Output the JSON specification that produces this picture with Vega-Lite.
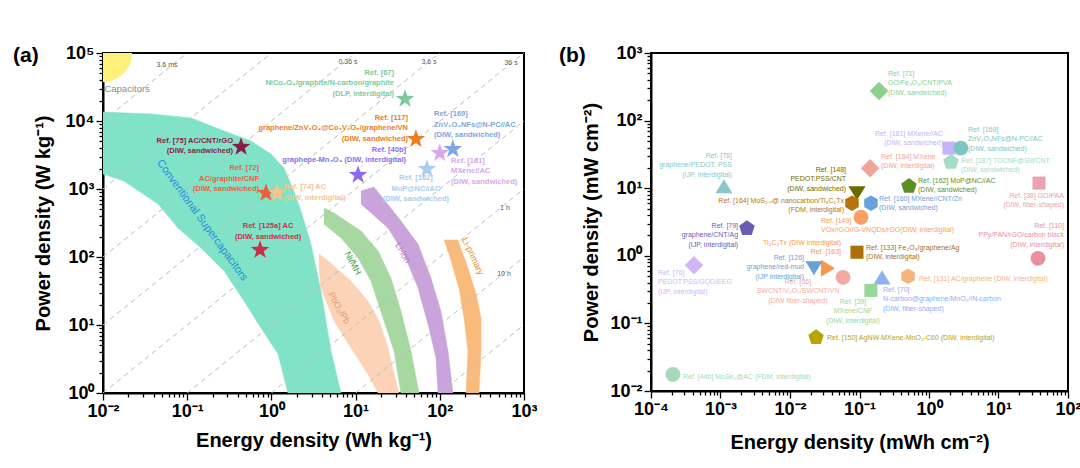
{
  "$schema": "https://vega.github.io/schema/vega-lite/v6.json",
  "background": "white",
  "padding": {"left": 12, "top": 43, "right": 5, "bottom": 5},
  "bounds": "flush",
  "spacing": 127,
  "resolve": {"scale": {"color": "independent", "shape": "independent"}},
  "config": {
    "view": {"stroke": "black", "strokeWidth": 2},
    "font": "Arial",
    "axis": {
      "domainColor": "black", "domainWidth": 2, "tickColor": "black", "tickWidth": 1.3,
      "labelColor": "black", "titleColor": "black", "labelFont": "Arial", "titleFont": "Arial",
      "labelFontSize": 18, "labelFontWeight": "bold", "titleFontSize": 20, "titleFontWeight": "bold",
      "grid": false, "labelFlush": false, "labelOverlap": false, "labelPadding": 2
    }
  },
  "datasets": {
    "tlines": [
      {"t": "1e-6", "E": 0.01, "P": 10000}, {"t": "1e-6", "E": 0.1, "P": 100000},
      {"t": "1e-5", "E": 0.01, "P": 1000}, {"t": "1e-5", "E": 1, "P": 100000},
      {"t": "1e-4", "E": 0.01, "P": 100}, {"t": "1e-4", "E": 10, "P": 100000},
      {"t": "1e-3", "E": 0.01, "P": 10}, {"t": "1e-3", "E": 100, "P": 100000},
      {"t": "1e-2", "E": 0.01, "P": 1}, {"t": "1e-2", "E": 1000, "P": 100000},
      {"t": "1e-1", "E": 0.1, "P": 1}, {"t": "1e-1", "E": 1000, "P": 10000},
      {"t": "1", "E": 1, "P": 1}, {"t": "1", "E": 1000, "P": 1000},
      {"t": "10", "E": 10, "P": 1}, {"t": "10", "E": 1000, "P": 100},
      {"t": "100", "E": 100, "P": 1}, {"t": "100", "E": 1000, "P": 10}
    ],
    "bands": [
      {"band": "sc", "i": 0, "E": 0.01, "P": 13600},
      {"band": "sc", "i": 1, "E": 0.0372, "P": 12700},
      {"band": "sc", "i": 2, "E": 0.111, "P": 11100},
      {"band": "sc", "i": 3, "E": 0.274, "P": 7130},
      {"band": "sc", "i": 4, "E": 0.573, "P": 5080},
      {"band": "sc", "i": 5, "E": 0.989, "P": 3270},
      {"band": "sc", "i": 6, "E": 1.41, "P": 2040},
      {"band": "sc", "i": 7, "E": 1.85, "P": 935},
      {"band": "sc", "i": 8, "E": 2.25, "P": 475},
      {"band": "sc", "i": 9, "E": 2.95, "P": 155},
      {"band": "sc", "i": 10, "E": 3.88, "P": 31.6},
      {"band": "sc", "i": 11, "E": 5.1, "P": 4.15},
      {"band": "sc", "i": 12, "E": 6.71, "P": 1},
      {"band": "sc", "i": 13, "E": 1.57, "P": 1},
      {"band": "sc", "i": 14, "E": 1.2, "P": 3.75},
      {"band": "sc", "i": 15, "E": 0.752, "P": 9.04},
      {"band": "sc", "i": 16, "E": 0.473, "P": 22.5},
      {"band": "sc", "i": 17, "E": 0.274, "P": 62.2},
      {"band": "sc", "i": 18, "E": 0.146, "P": 136},
      {"band": "sc", "i": 19, "E": 0.0778, "P": 267},
      {"band": "sc", "i": 20, "E": 0.045, "P": 601},
      {"band": "sc", "i": 21, "E": 0.0177, "P": 1310},
      {"band": "sc", "i": 22, "E": 0.01, "P": 1660},
      {"band": "pb", "i": 0, "E": 3.67, "P": 111},
      {"band": "pb", "i": 1, "E": 4.45, "P": 93.5},
      {"band": "pb", "i": 2, "E": 8.81, "P": 44.4},
      {"band": "pb", "i": 3, "E": 14.0, "P": 22.5},
      {"band": "pb", "i": 4, "E": 19.0, "P": 11.5},
      {"band": "pb", "i": 5, "E": 24.3, "P": 4.59},
      {"band": "pb", "i": 6, "E": 28.6, "P": 1.9},
      {"band": "pb", "i": 7, "E": 32.7, "P": 1},
      {"band": "pb", "i": 8, "E": 18.5, "P": 1},
      {"band": "pb", "i": 9, "E": 14.0, "P": 1.9},
      {"band": "pb", "i": 10, "E": 8.81, "P": 4.59},
      {"band": "pb", "i": 11, "E": 5.54, "P": 11.5},
      {"band": "pb", "i": 12, "E": 3.88, "P": 35.0},
      {"band": "pb", "i": 13, "E": 3.67, "P": 68.9},
      {"band": "nimh", "i": 0, "E": 4.21, "P": 526},
      {"band": "nimh", "i": 1, "E": 5.54, "P": 444},
      {"band": "nimh", "i": 2, "E": 11.6, "P": 241},
      {"band": "nimh", "i": 3, "E": 18.5, "P": 123},
      {"band": "nimh", "i": 4, "E": 26.3, "P": 49.1},
      {"band": "nimh", "i": 5, "E": 34.6, "P": 16.1},
      {"band": "nimh", "i": 6, "E": 45.5, "P": 4.15},
      {"band": "nimh", "i": 7, "E": 56.6, "P": 1},
      {"band": "nimh", "i": 8, "E": 34.6, "P": 1},
      {"band": "nimh", "i": 9, "E": 28.6, "P": 4.15},
      {"band": "nimh", "i": 10, "E": 21.7, "P": 11.5},
      {"band": "nimh", "i": 11, "E": 15.2, "P": 44.4},
      {"band": "nimh", "i": 12, "E": 10.7, "P": 96.6},
      {"band": "nimh", "i": 13, "E": 6.71, "P": 190},
      {"band": "nimh", "i": 14, "E": 4.21, "P": 305},
      {"band": "liion", "i": 0, "E": 11.6, "P": 935},
      {"band": "liion", "i": 1, "E": 16.5, "P": 1070},
      {"band": "liion", "i": 2, "E": 34.6, "P": 338},
      {"band": "liion", "i": 3, "E": 55.1, "P": 155},
      {"band": "liion", "i": 4, "E": 78.5, "P": 49.1},
      {"band": "liion", "i": 5, "E": 103, "P": 16.1},
      {"band": "liion", "i": 6, "E": 125, "P": 4.15},
      {"band": "liion", "i": 7, "E": 143, "P": 1},
      {"band": "liion", "i": 8, "E": 95.2, "P": 1},
      {"band": "liion", "i": 9, "E": 90.2, "P": 3.27},
      {"band": "liion", "i": 10, "E": 74.5, "P": 9.04},
      {"band": "liion", "i": 11, "E": 55.1, "P": 35.0},
      {"band": "liion", "i": 12, "E": 37.6, "P": 111},
      {"band": "liion", "i": 13, "E": 24.3, "P": 267},
      {"band": "liion", "i": 14, "E": 11.6, "P": 601},
      {"band": "liprim", "i": 0, "E": 112, "P": 178},
      {"band": "liprim", "i": 1, "E": 164, "P": 178},
      {"band": "liprim", "i": 2, "E": 216, "P": 68.9},
      {"band": "liprim", "i": 3, "E": 269, "P": 28.6},
      {"band": "liprim", "i": 4, "E": 309, "P": 12.7},
      {"band": "liprim", "i": 5, "E": 309, "P": 4.15},
      {"band": "liprim", "i": 6, "E": 292, "P": 1},
      {"band": "liprim", "i": 7, "E": 205, "P": 1},
      {"band": "liprim", "i": 8, "E": 216, "P": 4.15},
      {"band": "liprim", "i": 9, "E": 194, "P": 12.7},
      {"band": "liprim", "i": 10, "E": 169, "P": 35.0},
      {"band": "liprim", "i": 11, "E": 136, "P": 87.3}
    ],
    "capA": [{"E": 0.01, "P": 100000}],
    "capLab": [{"label": "Capacitors", "E": 0.0104, "P": 29600}],
    "tlab": [
      {"label": "3.6 ms", "E": 0.0575, "P": 66700},
      {"label": "0.36 s", "E": 8.13, "P": 73800},
      {"label": "3.6 s", "E": 74.5, "P": 73800},
      {"label": "36 s", "E": 701, "P": 71300},
      {"label": "1 h", "E": 594, "P": 526},
      {"label": "10 h", "E": 579, "P": 56.2}
    ],
    "bandlab": [
      {"name": "Conventional Supercapacitors", "E": 0.15, "P": 345},
      {"name": "PbO₂/Pb", "E": 6.35, "P": 17.8},
      {"name": "Ni/MH", "E": 9.31, "P": 81.6},
      {"name": "Li-ion", "E": 36.6, "P": 115},
      {"name": "Li-primary", "E": 248, "P": 103}
    ],
    "starsA": [
      {"ref": "67", "E": 38.6, "P": 21100},
      {"ref": "117", "E": 52, "P": 5430},
      {"ref": "169", "E": 143, "P": 3870},
      {"ref": "181", "E": 100, "P": 3380},
      {"ref": "162", "E": 70.5, "P": 1970},
      {"ref": "40b", "E": 10.7, "P": 1610},
      {"ref": "75", "E": 0.436, "P": 4150},
      {"ref": "72", "E": 0.863, "P": 874},
      {"ref": "74", "E": 1.17, "P": 874},
      {"ref": "125a", "E": 0.733, "P": 127}
    ],
    "labA_r": [
      {"ref": "75", "E": 0.35, "P": 5820, "label": "Ref. [75] AC/CNT/rGO\n(DIW, sandwiched)"},
      {"ref": "72", "E": 0.713, "P": 2330, "label": "Ref. [72]\nAC/graphite/CNF\n(DIW, sandwiched)"},
      {"ref": "67", "E": 28.6, "P": 58200, "label": "Ref. [67]\nNiCo₂O₄/graphite/N-carbon/graphite\n(DLP, interdigital)"},
      {"ref": "117", "E": 41.9, "P": 12700, "label": "Ref. [117]\ngraphene/ZnV₂O₄@Co₃V₂O₈/graphene/VN\n(DIW, sandwiched)"},
      {"ref": "40b", "E": 39.7, "P": 4290, "label": "Ref. [40b]\ngraphepe-Mn₃O₄ (DIW, interdigital)"}
    ],
    "labA_l": [
      {"ref": "74", "E": 1.41, "P": 1225, "label": "Ref. [74] AC\n(DIW, interdigital)"},
      {"ref": "169", "E": 85.3, "P": 14500, "label": "Ref. [169]\nZnV₂O₄NFs@N-PC//AC\n(DIW, sandwiched)"},
      {"ref": "181", "E": 136, "P": 2960, "label": "Ref. [181]\nMXene//AC\n(DIW, sandwiched)"}
    ],
    "labA_c": [
      {"ref": "125a", "E": 0.912, "P": 327, "label": "Ref. [125a] AC\n(DIW, sandwiched)"},
      {"ref": "162", "E": 52, "P": 1660, "label": "Ref. [162]\nMoP@NC//AC\n(DIW, sandwiched)"}
    ],
    "ptsB": [
      {"id": "71", "E": 0.191, "P": 274},
      {"id": "181", "E": 1.94, "P": 39.2},
      {"id": "169", "E": 2.88, "P": 39.2},
      {"id": "187", "E": 2.07, "P": 24.3},
      {"id": "184", "E": 0.142, "P": 19.8},
      {"id": "162", "E": 0.515, "P": 10.7},
      {"id": "38", "E": 38.3, "P": 11.9},
      {"id": "148", "E": 0.092, "P": 8.43},
      {"id": "160", "E": 0.146, "P": 6.0},
      {"id": "164", "E": 0.078, "P": 6.0},
      {"id": "149", "E": 0.105, "P": 3.72},
      {"id": "79", "E": 0.0024, "P": 2.55},
      {"id": "163", "E": 0.0352, "P": 0.653},
      {"id": "133", "E": 0.092, "P": 1.13},
      {"id": "126", "E": 0.0221, "P": 0.653},
      {"id": "36", "E": 0.058, "P": 0.48},
      {"id": "70", "E": 0.211, "P": 0.48},
      {"id": "39", "E": 0.146, "P": 0.308},
      {"id": "131", "E": 0.499, "P": 0.497},
      {"id": "110", "E": 37.0, "P": 0.918},
      {"id": "150", "E": 0.0237, "P": 0.062},
      {"id": "76", "E": 0.000416, "P": 0.723},
      {"id": "78", "E": 0.00112, "P": 10.7},
      {"id": "44b", "E": 0.000207, "P": 0.0176}
    ],
    "labB_l": [
      {"id": "71", "E": 0.257, "P": 570, "label": "Ref. [71]\nGO/Fe₃O₄/CNT/PVA\n(DIW, sandwiched)"},
      {"id": "169", "E": 3.64, "P": 84.3, "label": "Ref. [169]\nZnV₂O₄NFs@N-PC//AC\n(DIW, sandwiched)"},
      {"id": "187", "E": 2.88, "P": 29.3, "label": "Ref. [187]  TOCNF@SWCNT\n(DIW, sandwiched)"},
      {"id": "184", "E": 0.204, "P": 33.6, "label": "Ref. [184]  MXene\n(DIW, interdigital)"},
      {"id": "162", "E": 0.695, "P": 14.8, "label": "Ref. [162]  MoP@NC//AC\n(DIW, sandwiched)"},
      {"id": "160", "E": 0.191, "P": 8.01, "label": "Ref. [160]  MXene//CNT/Zn\n(DIW, sandwiched)"},
      {"id": "149", "E": 0.0279, "P": 3.78, "label": "Ref. [149]\nVOx/rGO//G-VNQDs/rGO(DIW, interdigital)"},
      {"id": "133", "E": 0.124, "P": 1.51, "label": "Ref. [133]  Fe₂O₃/graphene/Ag\n(DIW, interdigital)"},
      {"id": "70", "E": 0.218, "P": 0.36, "label": "Ref. [70]\nN-carbon@graphene/MnO₂//N-carbon\n(DIW, fiber-shaped)"},
      {"id": "131", "E": 0.718, "P": 0.523, "label": "Ref. [131]  AC/graphene (DIW, interdigital)"},
      {"id": "150", "E": 0.034, "P": 0.0699, "label": "Ref. [150]  AgNW-MXene-MnO₂-C60 (DIW, interdigital)"},
      {"id": "76", "E": 0.000126, "P": 0.642, "label": "Ref. [76]\nPEDOT:PSS/GQD/EEG\n(IJP, interdigital)"},
      {"id": "44b", "E": 0.000288, "P": 0.0185, "label": "Ref. [44b]  MoSe₂@AC (FDM, interdigital)"}
    ],
    "labB_r": [
      {"id": "181", "E": 1.59, "P": 73.6, "label": "Ref. [181]  MXene//AC\n(DIW, sandwiched)"},
      {"id": "38", "E": 87.5, "P": 8.87, "label": "Ref. [38] GO/PAA\n(DIW, fiber-shaped)"},
      {"id": "148", "E": 0.064, "P": 21.5, "label": "Ref. [148]\nPEDOT:PSS/CNT\n(DIW, sandwiched)"},
      {"id": "164", "E": 0.0598, "P": 7.48, "label": "Ref. [164]  MoS₂₋ₓ@ nanocarbon/Ti₃C₂Tx\n(FDM, interdigital)"},
      {"id": "79", "E": 0.00179, "P": 3.19, "label": "Ref. [79]\ngraphene/CNT/Ag\n(IJP, interdigital)"},
      {"id": "126", "E": 0.0159, "P": 1.07, "label": "Ref. [126]\ngraphene/red-mud\n(IJP interdigital)"},
      {"id": "110", "E": 87.5, "P": 3.19, "label": "Ref. [110]\nPPy/PAN/rGO/carbon black\n(DIW, interdigital)"},
      {"id": "78", "E": 0.00146, "P": 34.8, "label": "Ref. [78]\ngraphene/PEDOT: PSS\n(IJP, interdigital)"},
      {"id": "163", "E": 0.0542, "P": 1.79, "label": "Ti₃C₂Tx (DIW interdigital)\nRef. [163]"}
    ],
    "labB_c": [
      {"id": "36", "E": 0.013, "P": 0.472, "label": "Ref. [36]\nSWCNT/V₂O₅/SWCNT/VN\n(DIW fiber-shaped)"},
      {"id": "39", "E": 0.0805, "P": 0.239, "label": "Ref. [39]\nMXene/CNF\n(DIW, interdigital)"}
    ]
  },
  "hconcat": [
    {
      "width": 421,
      "height": 340,
      "title": {"text": "(a)", "anchor": "start", "frame": "group", "orient": "top", "offset": 0, "dx": -90, "dy": 39, "baseline": "alphabetic", "fontSize": 21, "fontWeight": "bold", "color": "black", "font": "Arial"},
      "encoding": {
        "x": {
          "field": "E", "type": "quantitative",
          "scale": {"type": "log", "domain": [0.01, 1000], "nice": false},
          "axis": {
            "title": "Energy density (Wh kg⁻¹)",
            "values": [0.01,0.02,0.03,0.04,0.05,0.06,0.07,0.08,0.09,0.1,0.2,0.3,0.4,0.5,0.6,0.7,0.8,0.9,1,2,3,4,5,6,7,8,9,10,20,30,40,50,60,70,80,90,100,200,300,400,500,600,700,800,900,1000],
            "labelExpr": "abs(log(datum.value)/LN10 - round(log(datum.value)/LN10)) < 0.01 ? '10' + (datum.value < 1 ? '⁻' : '') + ['⁰','¹','²','³','⁴','⁵'][abs(round(log(datum.value)/LN10))] : ''",
            "tickSize": {"condition": {"test": "abs(log(datum.value)/LN10 - round(log(datum.value)/LN10)) < 0.01", "value": 7}, "value": 4},
            "titlePadding": 10
          }
        },
        "y": {
          "field": "P", "type": "quantitative",
          "scale": {"type": "log", "domain": [1, 100000], "nice": false},
          "axis": {
            "title": "Power density (W kg⁻¹)",
            "values": [1,2,3,4,5,6,7,8,9,10,20,30,40,50,60,70,80,90,100,200,300,400,500,600,700,800,900,1000,2000,3000,4000,5000,6000,7000,8000,9000,10000,20000,30000,40000,50000,60000,70000,80000,90000,100000],
            "labelExpr": "abs(log(datum.value)/LN10 - round(log(datum.value)/LN10)) < 0.01 ? '10' + (datum.value < 1 ? '⁻' : '') + ['⁰','¹','²','³','⁴','⁵'][abs(round(log(datum.value)/LN10))] : ''",
            "tickSize": {"condition": {"test": "abs(log(datum.value)/LN10 - round(log(datum.value)/LN10)) < 0.01", "value": 7}, "value": 4},
            "titlePadding": 12
          }
        }
      },
      "layer": [
        {"data": {"name": "bands"}, "transform": [{"filter": "datum.band === 'sc'"}], "mark": {"type": "line", "fill": "#80e3c7", "stroke": "#80e3c7", "strokeWidth": 0.5, "clip": true}, "encoding": {"order": {"field": "i", "type": "quantitative"}}},
        {"data": {"name": "bands"}, "transform": [{"filter": "datum.band === 'pb'"}], "mark": {"type": "line", "fill": "#fcd3b7", "stroke": "#fcd3b7", "strokeWidth": 0.5, "clip": true}, "encoding": {"order": {"field": "i", "type": "quantitative"}}},
        {"data": {"name": "bands"}, "transform": [{"filter": "datum.band === 'nimh'"}], "mark": {"type": "line", "fill": "#a8d8a2", "stroke": "#a8d8a2", "strokeWidth": 0.5, "clip": true}, "encoding": {"order": {"field": "i", "type": "quantitative"}}},
        {"data": {"name": "bands"}, "transform": [{"filter": "datum.band === 'liion'"}], "mark": {"type": "line", "fill": "#c9a3da", "stroke": "#c9a3da", "strokeWidth": 0.5, "clip": true}, "encoding": {"order": {"field": "i", "type": "quantitative"}}},
        {"data": {"name": "bands"}, "transform": [{"filter": "datum.band === 'liprim'"}], "mark": {"type": "line", "fill": "#f9bb7c", "stroke": "#f9bb7c", "strokeWidth": 0.5, "clip": true}, "encoding": {"order": {"field": "i", "type": "quantitative"}}},
        {"data": {"name": "capA"}, "mark": {"type": "point", "shape": "circle", "filled": true, "size": 3400, "color": "#fdf17c", "opacity": 1, "clip": true}},
        {"data": {"name": "tlines"}, "mark": {"type": "line", "stroke": "#bdbdbd", "strokeWidth": 1, "strokeDash": [5, 4], "clip": true}, "encoding": {"detail": {"field": "t", "type": "nominal"}}},
        {"data": {"name": "capLab"}, "mark": {"type": "text", "align": "left", "baseline": "middle", "fontSize": 9.5, "color": "#8c8c8c"}, "encoding": {"text": {"field": "label"}}},
        {"data": {"name": "tlab"}, "mark": {"type": "text", "align": "center", "baseline": "middle", "fontSize": 7, "color": "#5a5a5a"}, "encoding": {"text": {"field": "label"}}},
        {"data": {"name": "bandlab"}, "transform": [{"filter": "datum.name === 'Conventional Supercapacitors'"}], "mark": {"type": "text", "angle": 54, "fontSize": 11, "color": "#2b8be0", "align": "center", "baseline": "middle"}, "encoding": {"text": {"field": "name"}}},
        {"data": {"name": "bandlab"}, "transform": [{"filter": "datum.name === 'PbO₂/Pb'"}], "mark": {"type": "text", "angle": 60, "fontSize": 9, "color": "#e0a070", "align": "center", "baseline": "middle"}, "encoding": {"text": {"field": "name"}}},
        {"data": {"name": "bandlab"}, "transform": [{"filter": "datum.name === 'Ni/MH'"}], "mark": {"type": "text", "angle": 62, "fontSize": 9, "color": "#2e9c3c", "align": "center", "baseline": "middle"}, "encoding": {"text": {"field": "name"}}},
        {"data": {"name": "bandlab"}, "transform": [{"filter": "datum.name === 'Li-ion'"}], "mark": {"type": "text", "angle": 60, "fontSize": 9, "color": "#b070c8", "align": "center", "baseline": "middle"}, "encoding": {"text": {"field": "name"}}},
        {"data": {"name": "bandlab"}, "transform": [{"filter": "datum.name === 'Li-primary'"}], "mark": {"type": "text", "angle": 65, "fontSize": 9, "color": "#e89030", "align": "center", "baseline": "middle"}, "encoding": {"text": {"field": "name"}}},
        {"data": {"name": "starsA"}, "mark": {"type": "point", "filled": true, "opacity": 1, "size": 380, "strokeWidth": 0, "shape": "M0,-1L0.235,-0.324L0.951,-0.309L0.38,0.124L0.588,0.809L0,0.4L-0.588,0.809L-0.38,0.124L-0.951,-0.309L-0.235,-0.324Z"},
          "encoding": {"color": {"field": "ref", "type": "nominal", "legend": null, "scale": {"domain": ["67","117","169","181","162","40b","75","72","74","125a"], "range": ["#7ec99c","#f07c1c","#7ea6e2","#d8a8ea","#a9cdee","#8b6cf0","#8a1c48","#e8603c","#f6c58e","#c83048"]}}}},
        {"data": {"name": "labA_r"}, "mark": {"type": "text", "align": "right", "baseline": "top", "fontSize": 7.5, "fontWeight": "bold", "lineBreak": "\n", "lineHeight": 10.5},
          "encoding": {"text": {"field": "label"}, "color": {"field": "ref", "type": "nominal", "legend": null, "scale": {"domain": ["67","117","169","181","162","40b","75","72","74","125a"], "range": ["#7ec99c","#f07c1c","#7ea6e2","#d8a8ea","#a9cdee","#8b6cf0","#8a1c48","#e8603c","#f6c58e","#c83048"]}}}},
        {"data": {"name": "labA_l"}, "mark": {"type": "text", "align": "left", "baseline": "top", "fontSize": 7.5, "fontWeight": "bold", "lineBreak": "\n", "lineHeight": 10.5},
          "encoding": {"text": {"field": "label"}, "color": {"field": "ref", "type": "nominal", "legend": null, "scale": {"domain": ["67","117","169","181","162","40b","75","72","74","125a"], "range": ["#7ec99c","#f07c1c","#7ea6e2","#d8a8ea","#a9cdee","#8b6cf0","#8a1c48","#e8603c","#f6c58e","#c83048"]}}}},
        {"data": {"name": "labA_c"}, "mark": {"type": "text", "align": "center", "baseline": "top", "fontSize": 7.5, "fontWeight": "bold", "lineBreak": "\n", "lineHeight": 10.5},
          "encoding": {"text": {"field": "label"}, "color": {"field": "ref", "type": "nominal", "legend": null, "scale": {"domain": ["67","117","169","181","162","40b","75","72","74","125a"], "range": ["#7ec99c","#f07c1c","#7ea6e2","#d8a8ea","#a9cdee","#8b6cf0","#8a1c48","#e8603c","#f6c58e","#c83048"]}}}}
      ]
    },
    {
      "width": 417,
      "height": 338,
      "title": {"text": "(b)", "anchor": "start", "frame": "group", "orient": "top", "offset": 0, "dx": -92, "dy": 39, "baseline": "alphabetic", "fontSize": 21, "fontWeight": "bold", "color": "black", "font": "Arial"},
      "encoding": {
        "x": {
          "field": "E", "type": "quantitative",
          "scale": {"type": "log", "domain": [0.0001, 100], "nice": false},
          "axis": {
            "title": "Energy density (mWh cm⁻²)",
            "values": [0.0001,0.0002,0.0003,0.0004,0.0005,0.0006,0.0007,0.0008,0.0009,0.001,0.002,0.003,0.004,0.005,0.006,0.007,0.008,0.009,0.01,0.02,0.03,0.04,0.05,0.06,0.07,0.08,0.09,0.1,0.2,0.3,0.4,0.5,0.6,0.7,0.8,0.9,1,2,3,4,5,6,7,8,9,10,20,30,40,50,60,70,80,90,100],
            "labelExpr": "abs(log(datum.value)/LN10 - round(log(datum.value)/LN10)) < 0.01 ? '10' + (datum.value < 1 ? '⁻' : '') + ['⁰','¹','²','³','⁴','⁵'][abs(round(log(datum.value)/LN10))] : ''",
            "tickSize": {"condition": {"test": "abs(log(datum.value)/LN10 - round(log(datum.value)/LN10)) < 0.01", "value": 7}, "value": 4},
            "titlePadding": 14
          }
        },
        "y": {
          "field": "P", "type": "quantitative",
          "scale": {"type": "log", "domain": [0.01, 1000], "nice": false},
          "axis": {
            "title": "Power density (mW cm⁻²)",
            "values": [0.01,0.02,0.03,0.04,0.05,0.06,0.07,0.08,0.09,0.1,0.2,0.3,0.4,0.5,0.6,0.7,0.8,0.9,1,2,3,4,5,6,7,8,9,10,20,30,40,50,60,70,80,90,100,200,300,400,500,600,700,800,900,1000],
            "labelExpr": "abs(log(datum.value)/LN10 - round(log(datum.value)/LN10)) < 0.01 ? '10' + (datum.value < 1 ? '⁻' : '') + ['⁰','¹','²','³','⁴','⁵'][abs(round(log(datum.value)/LN10))] : ''",
            "tickSize": {"condition": {"test": "abs(log(datum.value)/LN10 - round(log(datum.value)/LN10)) < 0.01", "value": 7}, "value": 4},
            "titlePadding": 8
          }
        }
      },
      "layer": [
        {"data": {"name": "ptsB"}, "mark": {"type": "point", "filled": true, "opacity": 1, "size": 220, "strokeWidth": 0},
          "encoding": {
            "shape": {"field": "id", "type": "nominal", "legend": null, "scale": {
              "domain": ["71","181","169","187","184","162","38","148","160","164","149","79","163","133","126","36","70","39","131","110","150","76","78","44b"],
              "range": [
                "M0,-1.25L1.25,0L0,1.25L-1.25,0Z",
                "M-0.88,-0.88L0.88,-0.88L0.88,0.88L-0.88,0.88Z",
                "circle",
                "M0,-1.1L1.046,-0.34L0.647,0.89L-0.647,0.89L-1.046,-0.34Z",
                "M0,-1.25L1.25,0L0,1.25L-1.25,0Z",
                "M0,-1.1L1.046,-0.34L0.647,0.89L-0.647,0.89L-1.046,-0.34Z",
                "M-0.88,-0.88L0.88,-0.88L0.88,0.88L-0.88,0.88Z",
                "M0,0.95L1.15,-0.95L-1.15,-0.95Z",
                "M0,-1.05L0.909,-0.525L0.909,0.525L0,1.05L-0.909,0.525L-0.909,-0.525Z",
                "M0,-1.05L0.909,-0.525L0.909,0.525L0,1.05L-0.909,0.525L-0.909,-0.525Z",
                "circle",
                "M0,-1.1L1.046,-0.34L0.647,0.89L-0.647,0.89L-1.046,-0.34Z",
                "M0.95,0L-0.95,1.15L-0.95,-1.15Z",
                "M-0.88,-0.88L0.88,-0.88L0.88,0.88L-0.88,0.88Z",
                "M0,0.95L1.15,-0.95L-1.15,-0.95Z",
                "circle",
                "M0,-0.95L1.15,0.95L-1.15,0.95Z",
                "M-0.88,-0.88L0.88,-0.88L0.88,0.88L-0.88,0.88Z",
                "M0,-1.05L0.909,-0.525L0.909,0.525L0,1.05L-0.909,0.525L-0.909,-0.525Z",
                "circle",
                "M0,-1.1L1.046,-0.34L0.647,0.89L-0.647,0.89L-1.046,-0.34Z",
                "M0,-1.25L1.25,0L0,1.25L-1.25,0Z",
                "M0,-0.95L1.15,0.95L-1.15,0.95Z",
                "circle"
              ]}},
            "color": {"field": "id", "type": "nominal", "legend": null, "scale": {
              "domain": ["71","181","169","187","184","162","38","148","160","164","149","79","163","133","126","36","70","39","131","110","150","76","78","44b"],
              "range": ["#8dcf8d","#c4b4f6","#7cc6c2","#a6dcc6","#f3a49a","#5b8f26","#e8a2b2","#6e6a00","#6aa1da","#b8740c","#f7a062","#6a5cb0","#f8984e","#ad6e0c","#6aa0d4","#f2aaa2","#8db0f0","#98d898","#f8b27e","#e8909f","#b8a600","#d0b8f8","#88c8c8","#a8d8b8"]}}
          }},
        {"data": {"name": "labB_l"}, "mark": {"type": "text", "align": "left", "baseline": "top", "fontSize": 7, "lineBreak": "\n", "lineHeight": 9.5},
          "encoding": {"text": {"field": "label"}, "color": {"field": "id", "type": "nominal", "legend": null, "scale": {
              "domain": ["71","181","169","187","184","162","38","148","160","164","149","79","163","133","126","36","70","39","131","110","150","76","78","44b"],
              "range": ["#7cc47c","#a99be6","#5aaaa8","#88c6b2","#e8857a","#4a7a14","#e08a9c","#5a5a00","#4a80c0","#b07010","#e07c3c","#5a4ca0","#f08a40","#a06800","#4a88c4","#e8847c","#6f95dc","#70c070","#eda070","#e07f90","#a08c00","#b49be6","#70b8b8","#8cc8a4"]}}}},
        {"data": {"name": "labB_r"}, "mark": {"type": "text", "align": "right", "baseline": "top", "fontSize": 7, "lineBreak": "\n", "lineHeight": 9.5},
          "encoding": {"text": {"field": "label"}, "color": {"field": "id", "type": "nominal", "legend": null, "scale": {
              "domain": ["71","181","169","187","184","162","38","148","160","164","149","79","163","133","126","36","70","39","131","110","150","76","78","44b"],
              "range": ["#7cc47c","#a99be6","#5aaaa8","#88c6b2","#e8857a","#4a7a14","#e08a9c","#5a5a00","#4a80c0","#b07010","#e07c3c","#5a4ca0","#f08a40","#a06800","#4a88c4","#e8847c","#6f95dc","#70c070","#eda070","#e07f90","#a08c00","#b49be6","#70b8b8","#8cc8a4"]}}}},
        {"data": {"name": "labB_c"}, "mark": {"type": "text", "align": "center", "baseline": "top", "fontSize": 7, "lineBreak": "\n", "lineHeight": 9.5},
          "encoding": {"text": {"field": "label"}, "color": {"field": "id", "type": "nominal", "legend": null, "scale": {
              "domain": ["71","181","169","187","184","162","38","148","160","164","149","79","163","133","126","36","70","39","131","110","150","76","78","44b"],
              "range": ["#7cc47c","#a99be6","#5aaaa8","#88c6b2","#e8857a","#4a7a14","#e08a9c","#5a5a00","#4a80c0","#b07010","#e07c3c","#5a4ca0","#f08a40","#a06800","#4a88c4","#e8847c","#6f95dc","#70c070","#eda070","#e07f90","#a08c00","#b49be6","#70b8b8","#8cc8a4"]}}}}
      ]
    }
  ]
}
